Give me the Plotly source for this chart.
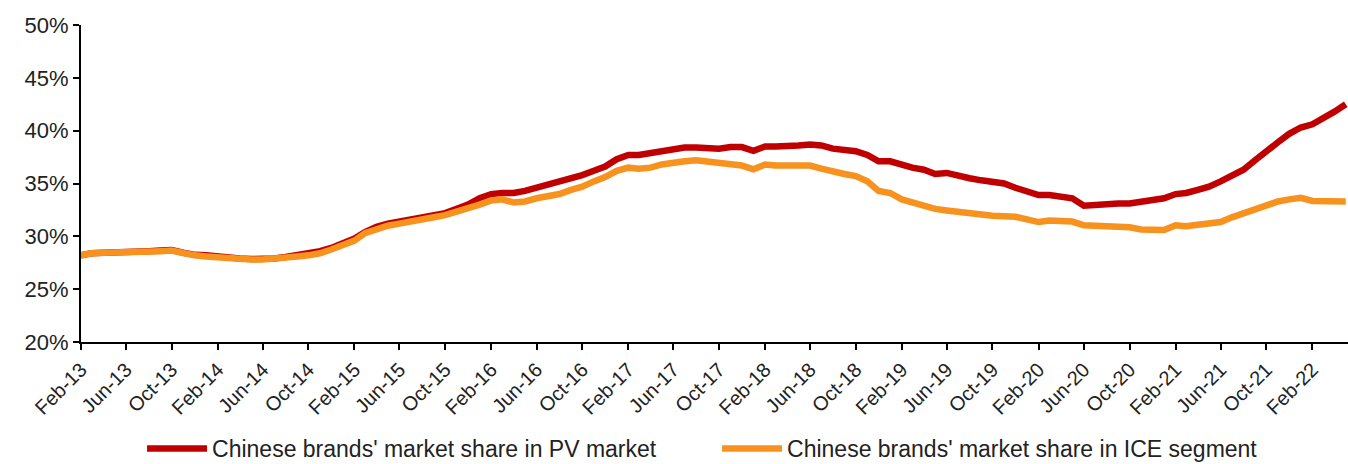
import pandas as pd
import plotly.graph_objects as go

# Monthly observations, Feb-2013 .. May-2022
months = pd.date_range("2013-02-01", "2022-05-01", freq="MS")

pv_share = [
    28.2, 28.4, 28.45, 28.45, 28.5, 28.55, 28.6, 28.65, 28.7, 28.45, 28.25, 28.2,
    28.05, 27.95, 27.9, 27.85, 27.85, 27.9, 28.05, 28.2, 28.3, 28.6, 28.9, 29.3,
    29.8, 30.4, 30.9, 31.2, 31.4, 31.55, 31.8, 32.0, 32.2, 32.6, 33.0, 33.6,
    34.0, 34.1, 34.1, 34.3, 34.6, 34.8, 35.1, 35.5, 35.8, 36.2, 36.6, 37.3,
    37.7, 37.7, 37.9, 38.1, 38.2, 38.4, 38.4, 38.3, 38.3, 38.45, 38.45, 38.1,
    38.5, 38.5, 38.5, 38.6, 38.7, 38.6, 38.3, 38.2, 38.05, 37.7, 37.1, 37.1,
    36.7, 36.5, 36.3, 35.9, 36.0, 35.7, 35.5, 35.3, 35.1, 35.0, 34.6, 34.2,
    33.9, 33.9, 33.8, 33.6, 32.9, 33.0, 33.05, 33.1, 33.1, 33.3, 33.4, 33.6,
    34.0, 34.1, 34.4, 34.7, 35.2, 35.7, 36.3, 37.2, 38.1, 38.9, 39.7, 40.3,
    40.6, 41.1, 41.8, 42.5,
]

ice_share = [
    28.2, 28.4, 28.45, 28.45, 28.5, 28.55, 28.6, 28.6, 28.65, 28.35, 28.2, 28.1,
    28.0, 27.9, 27.85, 27.8, 27.8, 27.85, 28.0, 28.1, 28.2, 28.4, 28.75, 29.2,
    29.6, 30.3, 30.7, 31.0, 31.2, 31.35, 31.5, 31.8, 32.0, 32.3, 32.6, 33.0,
    33.4, 33.5, 33.2, 33.3, 33.6, 33.8, 34.0, 34.4, 34.7, 35.2, 35.6, 36.2,
    36.5, 36.4, 36.5, 36.8, 37.0, 37.1, 37.2, 37.05, 37.0, 36.9, 36.7, 36.35,
    36.8, 36.7, 36.65, 36.6, 36.7, 36.4, 36.1, 35.9, 35.7, 35.2, 34.3, 34.1,
    33.5, 33.2, 32.9, 32.6, 32.45, 32.3, 32.15, 32.0, 31.95, 31.9, 31.85, 31.6,
    31.35, 31.5, 31.5, 31.4, 31.05, 31.0, 31.0, 30.9, 30.85, 30.65, 30.6, 30.6,
    31.05, 30.95, 31.1, 31.2, 31.35, 31.8, 32.2, 32.6, 32.9, 33.3, 33.5, 33.65,
    33.35, 33.3, 33.3, 33.3,
]

series_names = [
    "Chinese brands' market share in PV market",
    "Chinese brands' market share in ICE segment",
]
series_colors = ["#C00000", "#F8921F"]

fig = go.Figure()
for name, values, color in zip(series_names, [pv_share, ice_share], series_colors):
    fig.add_trace(go.Scatter(
        x=months, y=values, mode="lines", name=name,
        line=dict(color=color, width=6.5),
    ))

font_family = "Liberation Sans, Arial, sans-serif"
fig.update_layout(
    width=1348, height=464,
    margin=dict(l=81, r=0, t=25, b=122, autoexpand=False),
    paper_bgcolor="white", plot_bgcolor="white",
    font=dict(family=font_family, color="#222222", size=18),
    showlegend=True,
    legend=dict(
        orientation="h", x=0.502, xanchor="center", y=-0.268, yanchor="top",
        font=dict(size=23, family=font_family, color="#222222"),
        itemwidth=60, entrywidth=500, entrywidthmode="pixels",
        tracegroupgap=0,
    ),
)
fig.update_xaxes(
    type="date",
    range=["2013-02-01", "2022-05-07"],
    tick0="2013-02-01", dtick="M4", tickformat="%b-%y",
    tickangle=-45,
    tickfont=dict(size=20, family=font_family, color="#222222"),
    showline=True, linecolor="black", linewidth=2,
    ticks="outside", ticklen=6, tickwidth=2, tickcolor="black",
    showgrid=False, zeroline=False,
)
fig.update_yaxes(
    range=[20, 50], dtick=5, ticksuffix="%",
    tickfont=dict(size=22, family=font_family, color="#222222"),
    showline=True, linecolor="black", linewidth=2,
    ticks="outside", ticklen=6, tickwidth=2, tickcolor="black",
    showgrid=False, zeroline=False,
)

fig.write_html("out.html")
